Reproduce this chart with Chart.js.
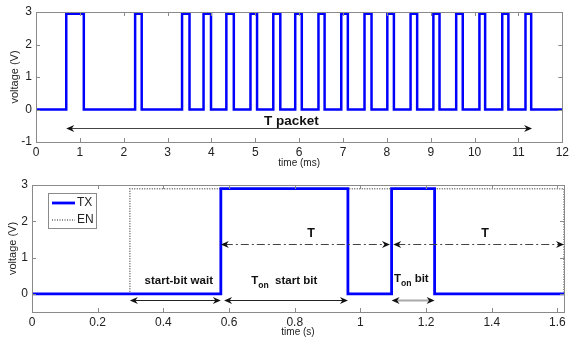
<!DOCTYPE html>
<html lang="en">
<head>
<meta charset="UTF-8">
<title>TX packet timing</title>
<script src="https://cdn.jsdelivr.net/npm/chart.js"></script>
<style>
  html, body { margin: 0; padding: 0; background: #fff; }
  .panel { position: relative; width: 572px; }
</style>
</head>
<body>
<div class="panel" style="height:170px"><canvas id="packetChart"></canvas></div>
<div class="panel" style="height:169px"><canvas id="bitChart"></canvas></div>
<script>
// top panel: a whole packet, time in ms
const packetRise = [0.69, 2.26, 3.33, 3.82, 4.34, 4.89, 5.41, 5.91, 6.44, 6.96, 7.49, 8.01, 8.54, 9.06, 9.58, 10.11, 10.63, 11.16];
const packetFall = [1.09, 2.41, 3.50, 3.99, 4.51, 5.04, 5.57, 6.06, 6.58, 7.11, 7.65, 8.16, 8.69, 9.20, 9.73, 10.24, 10.77, 11.29];
const packetHigh = 2.95;
const packetEnd = 12;
const packetXTicks = [0, 1, 2, 3, 4, 5, 6, 7, 8, 9, 10, 11, 12];
const packetYTicks = [-1, 0, 1, 2, 3];

// bottom panel: first bits of the packet, time in s
const txRise = [0.575, 1.095];
const txFall = [0.962, 1.226];
const txHigh = 2.9;
const enOn = 0.298;
const enHigh = 2.9;
const bitEnd = 1.62;
const bitXTicks = [0, 0.2, 0.4, 0.6, 0.8, 1, 1.2, 1.4, 1.6];
const bitYTicks = [0, 1, 2, 3];

const FONT = "'Liberation Sans', Arial, sans-serif";
const BLUE = '#0000ff';

// square wave from edge times
function steps(rise, fall, high, end) {
  const pts = [{x: 0, y: 0}];
  rise.forEach((r, i) => {
    pts.push({x: r, y: 0}, {x: r, y: high}, {x: fall[i], y: high}, {x: fall[i], y: 0});
  });
  pts.push({x: end, y: 0});
  return pts;
}

function arrowHead(ctx, px, py, dir) {
  ctx.beginPath();
  ctx.moveTo(px, py);
  ctx.lineTo(px - dir * 8, py - 3.5);
  ctx.lineTo(px - dir * 5.5, py);
  ctx.lineTo(px - dir * 8, py + 3.5);
  ctx.closePath();
  ctx.fill();
}

// MATLAB-ish box, inward ticks, arrows, labels, legend
const decor = {
  id: 'decor',
  afterDatasetsDraw(chart, args, opts) {
    const {ctx, chartArea: a, scales: {x, y}} = chart;
    ctx.save();
    ctx.strokeStyle = '#8a8a8a';
    ctx.lineWidth = 1;
    ctx.strokeRect(Math.round(a.left) + 0.5, Math.round(a.top) + 0.5,
      Math.round(a.right - a.left), Math.round(a.bottom - a.top));
    ctx.beginPath();
    x.ticks.forEach(t => {
      const px = Math.round(x.getPixelForValue(t.value)) + 0.5;
      ctx.moveTo(px, a.bottom); ctx.lineTo(px, a.bottom - 4);
      ctx.moveTo(px, a.top); ctx.lineTo(px, a.top + 4);
    });
    y.ticks.forEach(t => {
      const py = Math.round(y.getPixelForValue(t.value)) + 0.5;
      ctx.moveTo(a.left, py); ctx.lineTo(a.left + 4, py);
      ctx.moveTo(a.right, py); ctx.lineTo(a.right - 4, py);
    });
    ctx.stroke();

    (opts.arrows || []).forEach(ar => {
      const x1 = x.getPixelForValue(ar.from), x2 = x.getPixelForValue(ar.to);
      const py = Math.round(y.getPixelForValue(ar.at)) + 0.5;
      ctx.strokeStyle = ar.color || '#222';
      ctx.lineWidth = ar.width || 1;
      ctx.setLineDash(ar.dash || []);
      ctx.beginPath(); ctx.moveTo(x1 + 4, py); ctx.lineTo(x2 - 4, py); ctx.stroke();
      ctx.setLineDash([]);
      ctx.fillStyle = '#111';
      arrowHead(ctx, x1, py, -1);
      arrowHead(ctx, x2, py, 1);
    });

    (opts.labels || []).forEach(lb => {
      const size = lb.size || 12;
      const parts = lb.parts.map(p => ({...p, font: 'bold ' + (p.sub ? size * 0.75 : size) + 'px ' + FONT}));
      let w = 0;
      parts.forEach(p => { ctx.font = p.font; p.w = ctx.measureText(p.t).width; w += p.w; });
      let px = x.getPixelForValue(lb.x) - w / 2;
      const py = y.getPixelForValue(lb.y);
      ctx.fillStyle = '#111';
      ctx.textBaseline = 'middle';
      ctx.textAlign = 'left';
      parts.forEach(p => {
        ctx.font = p.font;
        ctx.fillText(p.t, px, p.sub ? py + size * 0.45 : py);
        px += p.w;
      });
    });

    if (opts.legend) {
      const lg = opts.legend;
      ctx.fillStyle = '#fff';
      ctx.fillRect(lg.left, lg.top, lg.w, lg.h);
      ctx.strokeStyle = '#8a8a8a';
      ctx.lineWidth = 1;
      ctx.strokeRect(lg.left + 0.5, lg.top + 0.5, lg.w, lg.h);
      chart.data.datasets.forEach((ds, i) => {
        const ry = lg.top + 10 + i * 17;
        ctx.strokeStyle = ds.borderColor;
        ctx.lineWidth = ds.borderWidth;
        ctx.setLineDash(ds.borderDash || []);
        ctx.beginPath(); ctx.moveTo(lg.left + 4, ry); ctx.lineTo(lg.left + 27, ry); ctx.stroke();
        ctx.setLineDash([]);
        ctx.fillStyle = '#222';
        ctx.font = '12px ' + FONT;
        ctx.textBaseline = 'middle';
        ctx.fillText(ds.label, lg.left + 29, ry);
      });
    }
    ctx.restore();
  }
};

function axes(xMin, xMax, xTicks, yMin, yMax, yTicks, xTitle, yAxisW, xAxisH, yTitlePad) {
  return {
    x: {
      type: 'linear', min: xMin, max: xMax,
      afterBuildTicks: s => { s.ticks = xTicks.map(v => ({value: v})); },
      afterFit: s => { s.height = xAxisH; },
      grid: {display: false, drawTicks: false},
      border: {display: false},
      ticks: {padding: 3, color: '#222', font: {family: FONT, size: 12}, maxRotation: 0, callback: v => String(v)},
      title: {display: true, text: xTitle, color: '#222', font: {family: FONT, size: 10}, padding: {top: 0, bottom: 1}}
    },
    y: {
      min: yMin, max: yMax,
      afterBuildTicks: s => { s.ticks = yTicks.map(v => ({value: v})); },
      afterFit: s => { s.width = yAxisW; },
      grid: {display: false, drawTicks: false},
      border: {display: false},
      ticks: {padding: 4, color: '#222', font: {family: FONT, size: 12}},
      title: {display: true, text: 'voltage (V)', color: '#222', font: {family: FONT, size: 11}, padding: {top: yTitlePad, bottom: 0}}
    }
  };
}

new Chart(document.getElementById('packetChart'), {
  type: 'line',
  data: {
    datasets: [{
      label: 'TX',
      data: steps(packetRise, packetFall, packetHigh, packetEnd),
      borderColor: BLUE, borderWidth: 2.5, pointRadius: 0, tension: 0
    }]
  },
  options: {
    responsive: true, maintainAspectRatio: false, animation: false,
    layout: {padding: {top: 12, right: 5, left: 0, bottom: 0}},
    scales: axes(0, packetEnd, packetXTicks, -1, 3, packetYTicks, 'time (ms)', 36, 28, 8),
    plugins: {
      legend: {display: false}, tooltip: {enabled: false},
      decor: {
        arrows: [{from: 0.69, to: 11.31, at: -0.56, color: '#444'}],
        labels: [{x: 5.82, y: -0.36, size: 13.5, parts: [{t: 'T packet'}]}]
      }
    }
  },
  plugins: [decor]
});

new Chart(document.getElementById('bitChart'), {
  type: 'line',
  data: {
    datasets: [{
      label: 'TX',
      data: steps(txRise, txFall, txHigh, bitEnd),
      borderColor: BLUE, borderWidth: 2.8, pointRadius: 0, tension: 0, order: 1
    }, {
      label: 'EN',
      data: steps([enOn], [bitEnd], enHigh, bitEnd),
      borderColor: '#666', borderWidth: 1.5, borderDash: [1, 1.5], pointRadius: 0, tension: 0, order: 2
    }]
  },
  options: {
    responsive: true, maintainAspectRatio: false, animation: false,
    layout: {padding: {top: 15, right: 8, left: 0, bottom: 0}},
    scales: axes(0, bitEnd, bitXTicks, -0.5, 3, bitYTicks, 'time (s)', 32, 27, 6),
    plugins: {
      legend: {display: false}, tooltip: {enabled: false},
      decor: {
        arrows: [
          {from: 0.298, to: 0.575, at: -0.17},
          {from: 0.585, to: 0.962, at: -0.17},
          {from: 1.095, to: 1.226, at: -0.17, color: '#aaa', width: 2},
          {from: 0.575, to: 1.09, at: 1.37, dash: [8, 3, 2, 3], color: '#444'},
          {from: 1.10, to: 1.62, at: 1.37, dash: [8, 3, 2, 3], color: '#444'}
        ],
        labels: [
          {x: 0.447, y: 0.37, size: 11.5, parts: [{t: 'start-bit wait'}]},
          {x: 0.768, y: 0.37, size: 11.5, parts: [{t: 'T'}, {t: 'on', sub: true}, {t: '  start bit'}]},
          {x: 1.155, y: 0.42, size: 11.5, parts: [{t: 'T'}, {t: 'on', sub: true}, {t: ' bit'}]},
          {x: 0.85, y: 1.65, size: 12.5, parts: [{t: 'T'}]},
          {x: 1.38, y: 1.65, size: 12.5, parts: [{t: 'T'}]}
        ],
        legend: {left: 48, top: 23, w: 48, h: 35}
      }
    }
  },
  plugins: [decor]
});
</script>
</body>
</html>
